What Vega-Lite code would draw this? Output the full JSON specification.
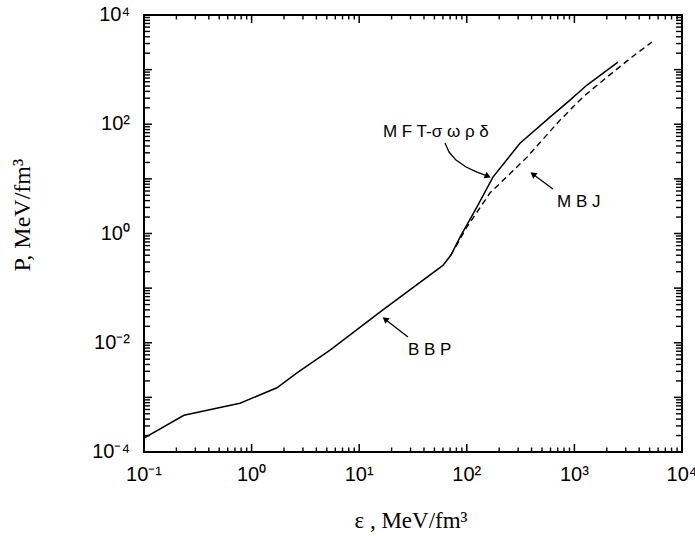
{
  "$schema": "https://vega.github.io/schema/vega-lite/v6.json",
  "autosize": "none",
  "width": 538,
  "height": 437,
  "padding": {"left": 144, "top": 15, "right": 13, "bottom": 84},
  "background": "white",
  "config": {
    "view": {"stroke": "black", "strokeWidth": 2}
  },
  "datasets": {
    "curves": [
      {"eps": 0.1, "P": 0.00018, "series": "solid"},
      {"eps": 0.235, "P": 0.00047, "series": "solid"},
      {"eps": 0.438, "P": 0.00061, "series": "solid"},
      {"eps": 0.78, "P": 0.00078, "series": "solid"},
      {"eps": 1.72, "P": 0.0015, "series": "solid"},
      {"eps": 2.64, "P": 0.0028, "series": "solid"},
      {"eps": 5.36, "P": 0.0073, "series": "solid"},
      {"eps": 16.6, "P": 0.04, "series": "solid"},
      {"eps": 60, "P": 0.26, "series": "solid"},
      {"eps": 71, "P": 0.4, "series": "solid"},
      {"eps": 86.5, "P": 0.86, "series": "solid"},
      {"eps": 124, "P": 3.05, "series": "solid"},
      {"eps": 175, "P": 10.8, "series": "solid"},
      {"eps": 312, "P": 45, "series": "solid"},
      {"eps": 593, "P": 135, "series": "solid"},
      {"eps": 910, "P": 277, "series": "solid"},
      {"eps": 1310, "P": 522, "series": "solid"},
      {"eps": 2540, "P": 1377, "series": "solid"},
      {"eps": 71, "P": 0.4, "series": "MBJ"},
      {"eps": 100, "P": 1.31, "series": "MBJ"},
      {"eps": 164, "P": 5.5, "series": "MBJ"},
      {"eps": 363, "P": 25, "series": "MBJ"},
      {"eps": 735, "P": 119, "series": "MBJ"},
      {"eps": 1200, "P": 315, "series": "MBJ"},
      {"eps": 2010, "P": 731, "series": "MBJ"},
      {"eps": 3430, "P": 1702, "series": "MBJ"},
      {"eps": 5260, "P": 3200, "series": "MBJ"}
    ],
    "labels": [
      {"eps": 16.6, "P": 72, "text": "M F T-σ ω ρ δ"},
      {"eps": 689, "P": 3.76, "text": "M B J"},
      {"eps": 28.4, "P": 0.0073, "text": "B B P"}
    ],
    "arrows": [
      {"arrow": "MFT", "o": 1, "eps": 62.7, "P": 45.3},
      {"arrow": "MFT", "o": 2, "eps": 68.4, "P": 31.0},
      {"arrow": "MFT", "o": 3, "eps": 79.4, "P": 22.1},
      {"arrow": "MFT", "o": 4, "eps": 98.4, "P": 16.5},
      {"arrow": "MFT", "o": 5, "eps": 124.4, "P": 13.3},
      {"arrow": "MFT", "o": 6, "eps": 157, "P": 11.2},
      {"arrow": "MBJ", "o": 1, "eps": 632, "P": 6.5},
      {"arrow": "MBJ", "o": 2, "eps": 412, "P": 12.2},
      {"arrow": "BBP", "o": 1, "eps": 28.4, "P": 0.0127},
      {"arrow": "BBP", "o": 2, "eps": 17.4, "P": 0.027}
    ],
    "heads": [
      {"arrow": "MFT", "eps": 157, "P": 11.2},
      {"arrow": "MBJ", "eps": 412, "P": 12.2},
      {"arrow": "BBP", "eps": 17.4, "P": 0.027}
    ],
    "xlabels": [
      {"v": 0.1, "label": "10⁻¹"}, {"v": 1, "label": "10⁰"}, {"v": 10, "label": "10¹"},
      {"v": 100, "label": "10²"}, {"v": 1000, "label": "10³"}, {"v": 10000, "label": "10⁴"}
    ],
    "ylabels": [
      {"v": 0.0001, "label": "10⁻⁴"}, {"v": 0.01, "label": "10⁻²"}, {"v": 1, "label": "10⁰"},
      {"v": 100, "label": "10²"}, {"v": 10000, "label": "10⁴"}
    ],
    "titles": [
      {"eps": 30.3, "P": 0.0001, "title": "ε ,  MeV/fm³", "axis": "x"},
      {"eps": 0.00873, "P": 2.17, "title": "P, MeV/fm³", "axis": "y"}
    ],
    "xmajor": [{"v": 0.1}, {"v": 1}, {"v": 10}, {"v": 100}, {"v": 1000}, {"v": 10000}],
    "xminor": [
      {"v": 0.2}, {"v": 0.3}, {"v": 0.4}, {"v": 0.5}, {"v": 0.6}, {"v": 0.7}, {"v": 0.8}, {"v": 0.9},
      {"v": 2}, {"v": 3}, {"v": 4}, {"v": 5}, {"v": 6}, {"v": 7}, {"v": 8}, {"v": 9},
      {"v": 20}, {"v": 30}, {"v": 40}, {"v": 50}, {"v": 60}, {"v": 70}, {"v": 80}, {"v": 90},
      {"v": 200}, {"v": 300}, {"v": 400}, {"v": 500}, {"v": 600}, {"v": 700}, {"v": 800}, {"v": 900},
      {"v": 2000}, {"v": 3000}, {"v": 4000}, {"v": 5000}, {"v": 6000}, {"v": 7000}, {"v": 8000}, {"v": 9000}
    ],
    "ymajor": [{"v": 0.0001}, {"v": 0.001}, {"v": 0.01}, {"v": 0.1}, {"v": 1}, {"v": 10}, {"v": 100}, {"v": 1000}, {"v": 10000}],
    "yminor": [
      {"v": 0.0002}, {"v": 0.0003}, {"v": 0.0004}, {"v": 0.0005}, {"v": 0.0006}, {"v": 0.0007}, {"v": 0.0008}, {"v": 0.0009},
      {"v": 0.002}, {"v": 0.003}, {"v": 0.004}, {"v": 0.005}, {"v": 0.006}, {"v": 0.007}, {"v": 0.008}, {"v": 0.009},
      {"v": 0.02}, {"v": 0.03}, {"v": 0.04}, {"v": 0.05}, {"v": 0.06}, {"v": 0.07}, {"v": 0.08}, {"v": 0.09},
      {"v": 0.2}, {"v": 0.3}, {"v": 0.4}, {"v": 0.5}, {"v": 0.6}, {"v": 0.7}, {"v": 0.8}, {"v": 0.9},
      {"v": 2}, {"v": 3}, {"v": 4}, {"v": 5}, {"v": 6}, {"v": 7}, {"v": 8}, {"v": 9},
      {"v": 20}, {"v": 30}, {"v": 40}, {"v": 50}, {"v": 60}, {"v": 70}, {"v": 80}, {"v": 90},
      {"v": 200}, {"v": 300}, {"v": 400}, {"v": 500}, {"v": 600}, {"v": 700}, {"v": 800}, {"v": 900},
      {"v": 2000}, {"v": 3000}, {"v": 4000}, {"v": 5000}, {"v": 6000}, {"v": 7000}, {"v": 8000}, {"v": 9000}
    ]
  },
  "layer": [
    {
      "data": {"name": "curves"},
      "transform": [{"filter": "datum.series == 'solid'"}],
      "mark": {"type": "line", "color": "black", "strokeWidth": 1.5, "clip": true},
      "encoding": {
        "x": {"field": "eps", "type": "quantitative", "scale": {"type": "log", "domain": [0.1, 10000], "nice": false}, "axis": null},
        "y": {"field": "P", "type": "quantitative", "scale": {"type": "log", "domain": [0.0001, 10000], "nice": false}, "axis": null}
      }
    },
    {
      "data": {"name": "curves"},
      "transform": [{"filter": "datum.series == 'MBJ'"}],
      "mark": {"type": "line", "color": "black", "strokeWidth": 1.4, "strokeDash": [6, 4], "clip": true},
      "encoding": {
        "x": {"field": "eps", "type": "quantitative", "axis": null},
        "y": {"field": "P", "type": "quantitative", "axis": null}
      }
    },
    {
      "data": {"name": "xmajor"},
      "mark": {"type": "point", "shape": "M0,0V-2", "filled": false, "stroke": "black", "strokeWidth": 1.5, "size": 64, "opacity": 1},
      "encoding": {
        "x": {"field": "v", "type": "quantitative", "axis": null},
        "y": {"datum": 0.0001, "type": "quantitative", "axis": null}
      }
    },
    {
      "data": {"name": "xminor"},
      "mark": {"type": "point", "shape": "M0,0V-2", "filled": false, "stroke": "black", "strokeWidth": 1.4, "size": 20, "opacity": 1},
      "encoding": {
        "x": {"field": "v", "type": "quantitative", "axis": null},
        "y": {"datum": 0.0001, "type": "quantitative", "axis": null}
      }
    },
    {
      "data": {"name": "xmajor"},
      "mark": {"type": "point", "shape": "M0,0V2", "filled": false, "stroke": "black", "strokeWidth": 1.5, "size": 64, "opacity": 1},
      "encoding": {
        "x": {"field": "v", "type": "quantitative", "axis": null},
        "y": {"datum": 10000, "type": "quantitative", "axis": null}
      }
    },
    {
      "data": {"name": "xminor"},
      "mark": {"type": "point", "shape": "M0,0V2", "filled": false, "stroke": "black", "strokeWidth": 1.4, "size": 20, "opacity": 1},
      "encoding": {
        "x": {"field": "v", "type": "quantitative", "axis": null},
        "y": {"datum": 10000, "type": "quantitative", "axis": null}
      }
    },
    {
      "data": {"name": "ymajor"},
      "mark": {"type": "point", "shape": "M0,0H2", "filled": false, "stroke": "black", "strokeWidth": 1.5, "size": 64, "opacity": 1},
      "encoding": {
        "y": {"field": "v", "type": "quantitative", "axis": null},
        "x": {"datum": 0.1, "type": "quantitative", "axis": null}
      }
    },
    {
      "data": {"name": "yminor"},
      "mark": {"type": "point", "shape": "M0,0H2", "filled": false, "stroke": "black", "strokeWidth": 1.4, "size": 36, "opacity": 1},
      "encoding": {
        "y": {"field": "v", "type": "quantitative", "axis": null},
        "x": {"datum": 0.1, "type": "quantitative", "axis": null}
      }
    },
    {
      "data": {"name": "ymajor"},
      "mark": {"type": "point", "shape": "M0,0H-2", "filled": false, "stroke": "black", "strokeWidth": 1.5, "size": 64, "opacity": 1},
      "encoding": {
        "y": {"field": "v", "type": "quantitative", "axis": null},
        "x": {"datum": 10000, "type": "quantitative", "axis": null}
      }
    },
    {
      "data": {"name": "yminor"},
      "mark": {"type": "point", "shape": "M0,0H-2", "filled": false, "stroke": "black", "strokeWidth": 1.4, "size": 36, "opacity": 1},
      "encoding": {
        "y": {"field": "v", "type": "quantitative", "axis": null},
        "x": {"datum": 10000, "type": "quantitative", "axis": null}
      }
    },
    {
      "data": {"name": "xlabels"},
      "mark": {"type": "text", "align": "center", "baseline": "alphabetic", "dy": 29, "font": "Liberation Sans", "fontSize": 20, "color": "black"},
      "encoding": {
        "x": {"field": "v", "type": "quantitative", "axis": null},
        "y": {"datum": 0.0001, "type": "quantitative", "axis": null},
        "text": {"field": "label"}
      }
    },
    {
      "data": {"name": "ylabels"},
      "mark": {"type": "text", "align": "right", "baseline": "middle", "dx": -14, "font": "Liberation Sans", "fontSize": 20, "color": "black"},
      "encoding": {
        "y": {"field": "v", "type": "quantitative", "axis": null},
        "x": {"datum": 0.1, "type": "quantitative", "axis": null},
        "text": {"field": "label"}
      }
    },
    {
      "data": {"name": "titles"},
      "transform": [{"filter": "datum.axis == 'x'"}],
      "mark": {"type": "text", "align": "center", "baseline": "alphabetic", "dy": 76, "font": "Liberation Serif", "fontSize": 23, "color": "black"},
      "encoding": {
        "x": {"field": "eps", "type": "quantitative", "axis": null},
        "y": {"field": "P", "type": "quantitative", "axis": null},
        "text": {"field": "title"}
      }
    },
    {
      "data": {"name": "titles"},
      "transform": [{"filter": "datum.axis == 'y'"}],
      "mark": {"type": "text", "align": "center", "baseline": "alphabetic", "angle": 270, "font": "Liberation Serif", "fontSize": 24, "color": "black"},
      "encoding": {
        "x": {"field": "eps", "type": "quantitative", "axis": null},
        "y": {"field": "P", "type": "quantitative", "axis": null},
        "text": {"field": "title"}
      }
    },
    {
      "data": {"name": "labels"},
      "mark": {"type": "text", "align": "left", "baseline": "middle", "font": "Liberation Sans", "fontSize": 17, "color": "black"},
      "encoding": {
        "x": {"field": "eps", "type": "quantitative", "axis": null},
        "y": {"field": "P", "type": "quantitative", "axis": null},
        "text": {"field": "text"}
      }
    },
    {
      "data": {"name": "arrows"},
      "mark": {"type": "line", "color": "black", "strokeWidth": 1.3},
      "encoding": {
        "x": {"field": "eps", "type": "quantitative", "axis": null},
        "y": {"field": "P", "type": "quantitative", "axis": null},
        "detail": {"field": "arrow"},
        "order": {"field": "o"}
      }
    },
    {
      "data": {"name": "heads"},
      "transform": [{"filter": "datum.arrow == 'MFT'"}],
      "mark": {"type": "point", "shape": "triangle-right", "filled": true, "color": "black", "size": 50, "angle": 24, "opacity": 1},
      "encoding": {
        "x": {"field": "eps", "type": "quantitative", "axis": null},
        "y": {"field": "P", "type": "quantitative", "axis": null}
      }
    },
    {
      "data": {"name": "heads"},
      "transform": [{"filter": "datum.arrow != 'MFT'"}],
      "mark": {"type": "point", "shape": "triangle-right", "filled": true, "color": "black", "size": 50, "angle": 218, "opacity": 1},
      "encoding": {
        "x": {"field": "eps", "type": "quantitative", "axis": null},
        "y": {"field": "P", "type": "quantitative", "axis": null}
      }
    }
  ]
}
